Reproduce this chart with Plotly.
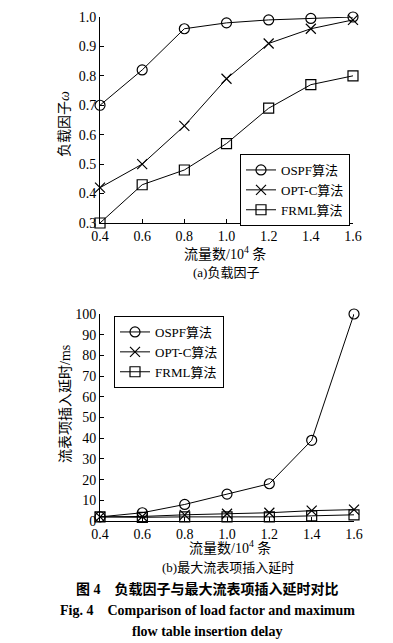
import plotly.graph_objects as go

x_vals = [0.4, 0.6, 0.8, 1.0, 1.2, 1.4, 1.6]
x_ticks = ["0.4", "0.6", "0.8", "1.0", "1.2", "1.4", "1.6"]

load_ospf = [0.70, 0.82, 0.96, 0.98, 0.99, 0.995, 1.0]
load_optc = [0.42, 0.50, 0.63, 0.79, 0.91, 0.96, 0.99]
load_frml = [0.30, 0.43, 0.48, 0.57, 0.69, 0.77, 0.80]

delay_ospf = [2, 4, 8, 13, 18, 39, 100]
delay_optc = [2, 2.2, 3, 3.5, 4, 5, 5.5]
delay_frml = [2, 1.8, 2, 2, 2, 2.5, 3]

names = ["OSPF算法", "OPT-C算法", "FRML算法"]
symbols = ["circle-open", "x-thin-open", "square-open"]

FONT = "Liberation Serif, Times New Roman, Noto Sans CJK SC, serif"

fig = go.Figure()

for ys, nm, sym in zip([load_ospf, load_optc, load_frml], names, symbols):
    fig.add_trace(go.Scatter(
        x=x_vals, y=ys, name=nm, mode="lines+markers",
        line=dict(color="black", width=1),
        marker=dict(symbol=sym, size=10, color="black",
                    line=dict(color="black", width=1.2)),
        xaxis="x", yaxis="y", legend="legend", cliponaxis=False))

for ys, nm, sym in zip([delay_ospf, delay_optc, delay_frml], names, symbols):
    fig.add_trace(go.Scatter(
        x=x_vals, y=ys, name=nm, mode="lines+markers",
        line=dict(color="black", width=1),
        marker=dict(symbol=sym, size=10, color="black",
                    line=dict(color="black", width=1.2)),
        xaxis="x2", yaxis="y2", legend="legend2", cliponaxis=False))

axis_common = dict(showline=True, linecolor="black", linewidth=1,
                   ticks="inside", ticklen=4, tickcolor="black",
                   showgrid=False, zeroline=False, automargin=False,
                   tickfont=dict(family=FONT, size=14, color="black"))

fig.update_layout(
    width=393, height=643,
    margin=dict(l=0, r=0, t=0, b=0, autoexpand=False),
    paper_bgcolor="white", plot_bgcolor="white",
    font=dict(family=FONT, color="black"),
    xaxis=dict(domain=[0.2545, 0.8982], range=[0.4, 1.6],
               tickvals=x_vals, ticktext=x_ticks, anchor="y", **axis_common),
    yaxis=dict(domain=[0.6532, 0.9736], range=[0.3, 1.0], dtick=0.1,
               tickformat=".1f", anchor="x", **axis_common),
    xaxis2=dict(domain=[0.2545, 0.9008], range=[0.4, 1.6],
                tickvals=x_vals, ticktext=x_ticks, anchor="y2", **axis_common),
    yaxis2=dict(domain=[0.1897, 0.5117], range=[0, 100], dtick=10, anchor="x2",
                **axis_common),
    legend=dict(x=350/393, y=1 - 154/643, xanchor="right", yanchor="top",
                bordercolor="black", borderwidth=1, bgcolor="white",
                font=dict(family=FONT, size=13), tracegroupgap=0,
                itemwidth=30),
    legend2=dict(x=114/393, y=1 - 316/643, xanchor="left", yanchor="top",
                 bordercolor="black", borderwidth=1, bgcolor="white",
                 font=dict(family=FONT, size=13), tracegroupgap=0,
                 itemwidth=30),
)

def ann(text, xpx, ypx, size, bold=False, angle=0):
    if bold:
        text = "<b>" + text + "</b>"
    fig.add_annotation(text=text, x=xpx/393, y=1 - ypx/643, xref="paper", yref="paper",
                       showarrow=False, xanchor="center", yanchor="middle", textangle=angle,
                       font=dict(family=FONT, size=size, color="black"))

ann("负载因子<i>ω</i>", 64, 124, 14, angle=-90)
ann("流表项插入延时/ms", 65, 404, 14, angle=-90)
ann("流量数/10<sup>4</sup> 条", 225, 253, 14)
ann("(a)负载因子", 226, 272, 13)
ann("流量数/10<sup>4</sup> 条", 230, 547, 14)
ann("(b)最大流表项插入延时", 228, 567, 13)
ann("图 4　负载因子与最大流表项插入延时对比", 208, 589, 14, bold=True)
ann("Fig. 4　Comparison of load factor and maximum", 208, 610, 14, bold=True)
ann("flow table insertion delay", 208, 631, 14, bold=True)

fig.write_html("out.html", config={"displayModeBar": False},
               post_script="document.body.style.margin='0';document.body.style.overflow='hidden';")
